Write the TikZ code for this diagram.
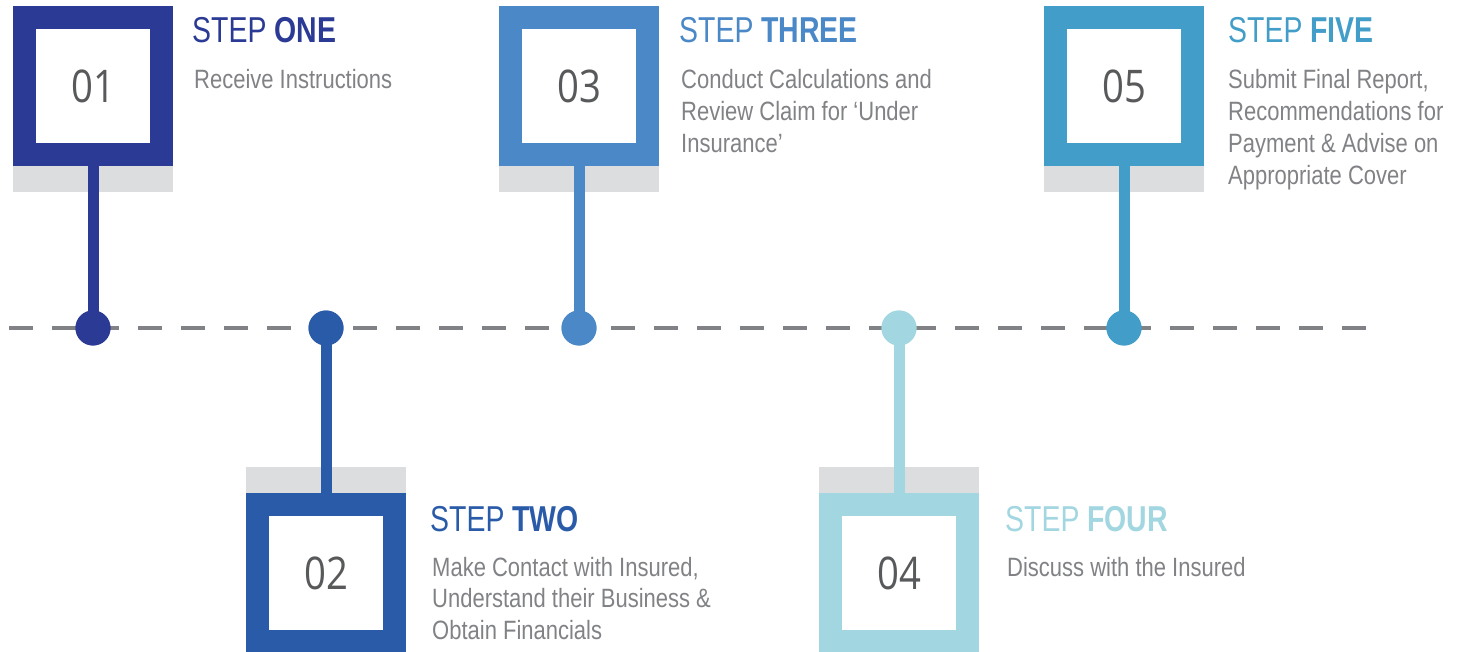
\documentclass[tikz,border=0pt]{standalone}
\usepackage{fontspec}
\setmainfont{Liberation Sans}[FakeStretch=0.83]
\newfontfamily\titlefont{Liberation Sans}[FakeStretch=0.79]
\newfontfamily\numfont{Open Sans}[FakeStretch=0.85]
\definecolor{cone}{HTML}{2B3A95}
\definecolor{ctwo}{HTML}{2A5BA8}
\definecolor{cthree}{HTML}{4A88C7}
\definecolor{cfour}{HTML}{A2D6E0}
\definecolor{cfive}{HTML}{429EC9}
\definecolor{bandgray}{HTML}{DCDDDE}
\definecolor{linegray}{HTML}{808285}
\definecolor{txtgray}{HTML}{808285}
\definecolor{numgray}{HTML}{58595B}
\tikzset{
  frame/.style={rectangle, draw=#1, fill=white, line width=23pt, minimum size=137pt, inner sep=0pt, font=\numfont\fontsize{45}{45}\selectfont, text=numgray},
  band/.style={rectangle, fill=bandgray, draw=none, minimum width=160pt, minimum height=26pt, inner sep=0pt},
  dot/.style={circle, fill=#1, draw=none, minimum size=35pt, inner sep=0pt},
  stem/.style={line width=11pt, draw=#1},
  title/.style={anchor=base west, inner sep=0pt, font=\titlefont\fontsize{36}{36}\selectfont, text=#1},
  body/.style={anchor=base west, inner sep=0pt, align=left, font=\fontsize{26.5}{31.7}\selectfont, text=txtgray},
  timeline/.style={line width=4pt, draw=linegray, dash pattern=on 24pt off 19pt}
}
\begin{document}
\begin{tikzpicture}[x=1pt,y=-1pt]
\useasboundingbox (0,0) rectangle (1463,652);
% timeline
\coordinate (tlstart) at (9,328);
\coordinate (tlend) at (1366,328);
\draw[timeline] (tlstart) -- (tlend);
% bands
\node[band] (g1) at (93,179) {};
\node[band] (g3) at (579,179) {};
\node[band] (g5) at (1124,179) {};
\node[band] (g2) at (326,480) {};
\node[band] (g4) at (899,480) {};
% frames
\node[frame=cone] (b1) at (93,86) {01};
\node[frame=cthree] (b3) at (579,86) {03};
\node[frame=cfive] (b5) at (1124,86) {05};
\node[frame=ctwo] (b2) at (326,573) {02};
\node[frame=cfour] (b4) at (899,573) {04};
% dots
\node[dot=cone] (d1) at (93,328) {};
\node[dot=ctwo] (d2) at (326,328) {};
\node[dot=cthree] (d3) at (579,328) {};
\node[dot=cfour] (d4) at (899,328) {};
\node[dot=cfive] (d5) at (1124,328) {};
% stems
\draw[stem=cone] (b1.south) -- (d1.center);
\draw[stem=cthree] (b3.south) -- (d3.center);
\draw[stem=cfive] (b5.south) -- (d5.center);
\draw[stem=ctwo] (d2.center) -- (b2.north);
\draw[stem=cfour] (d4.center) -- (b4.north);
% redraw dots on top
\node[dot=cone] at (d1) {};
\node[dot=ctwo] at (d2) {};
\node[dot=cthree] at (d3) {};
\node[dot=cfour] at (d4) {};
\node[dot=cfive] at (d5) {};
% titles
\node[title=cone] (t1) at (192,43) {STEP \textbf{ONE}};
\node[title=cthree] (t3) at (679,43) {STEP \textbf{THREE}};
\node[title=cfive] (t5) at (1228,43) {STEP \textbf{FIVE}};
\node[title=ctwo] (t2) at (430,531) {STEP \textbf{TWO}};
\node[title=cfour] (t4) at (1005,531) {STEP \textbf{FOUR}};
% bodies (base anchor = last line's baseline)
\node[body] (x1) at (194,89) {Receive Instructions};
\node[body] (x3) at (681,152.4) {Conduct Calculations and\\Review Claim for ‘Under\\Insurance’};
\node[body] (x5) at (1228,184.1) {Submit Final Report,\\Recommendations for\\Payment \& Advise on\\Appropriate Cover};
\node[body] (x2) at (432,639.4) {Make Contact with Insured,\\Understand their Business \&\\Obtain Financials};
\node[body] (x4) at (1007,576) {Discuss with the Insured};
\end{tikzpicture}
\end{document}
